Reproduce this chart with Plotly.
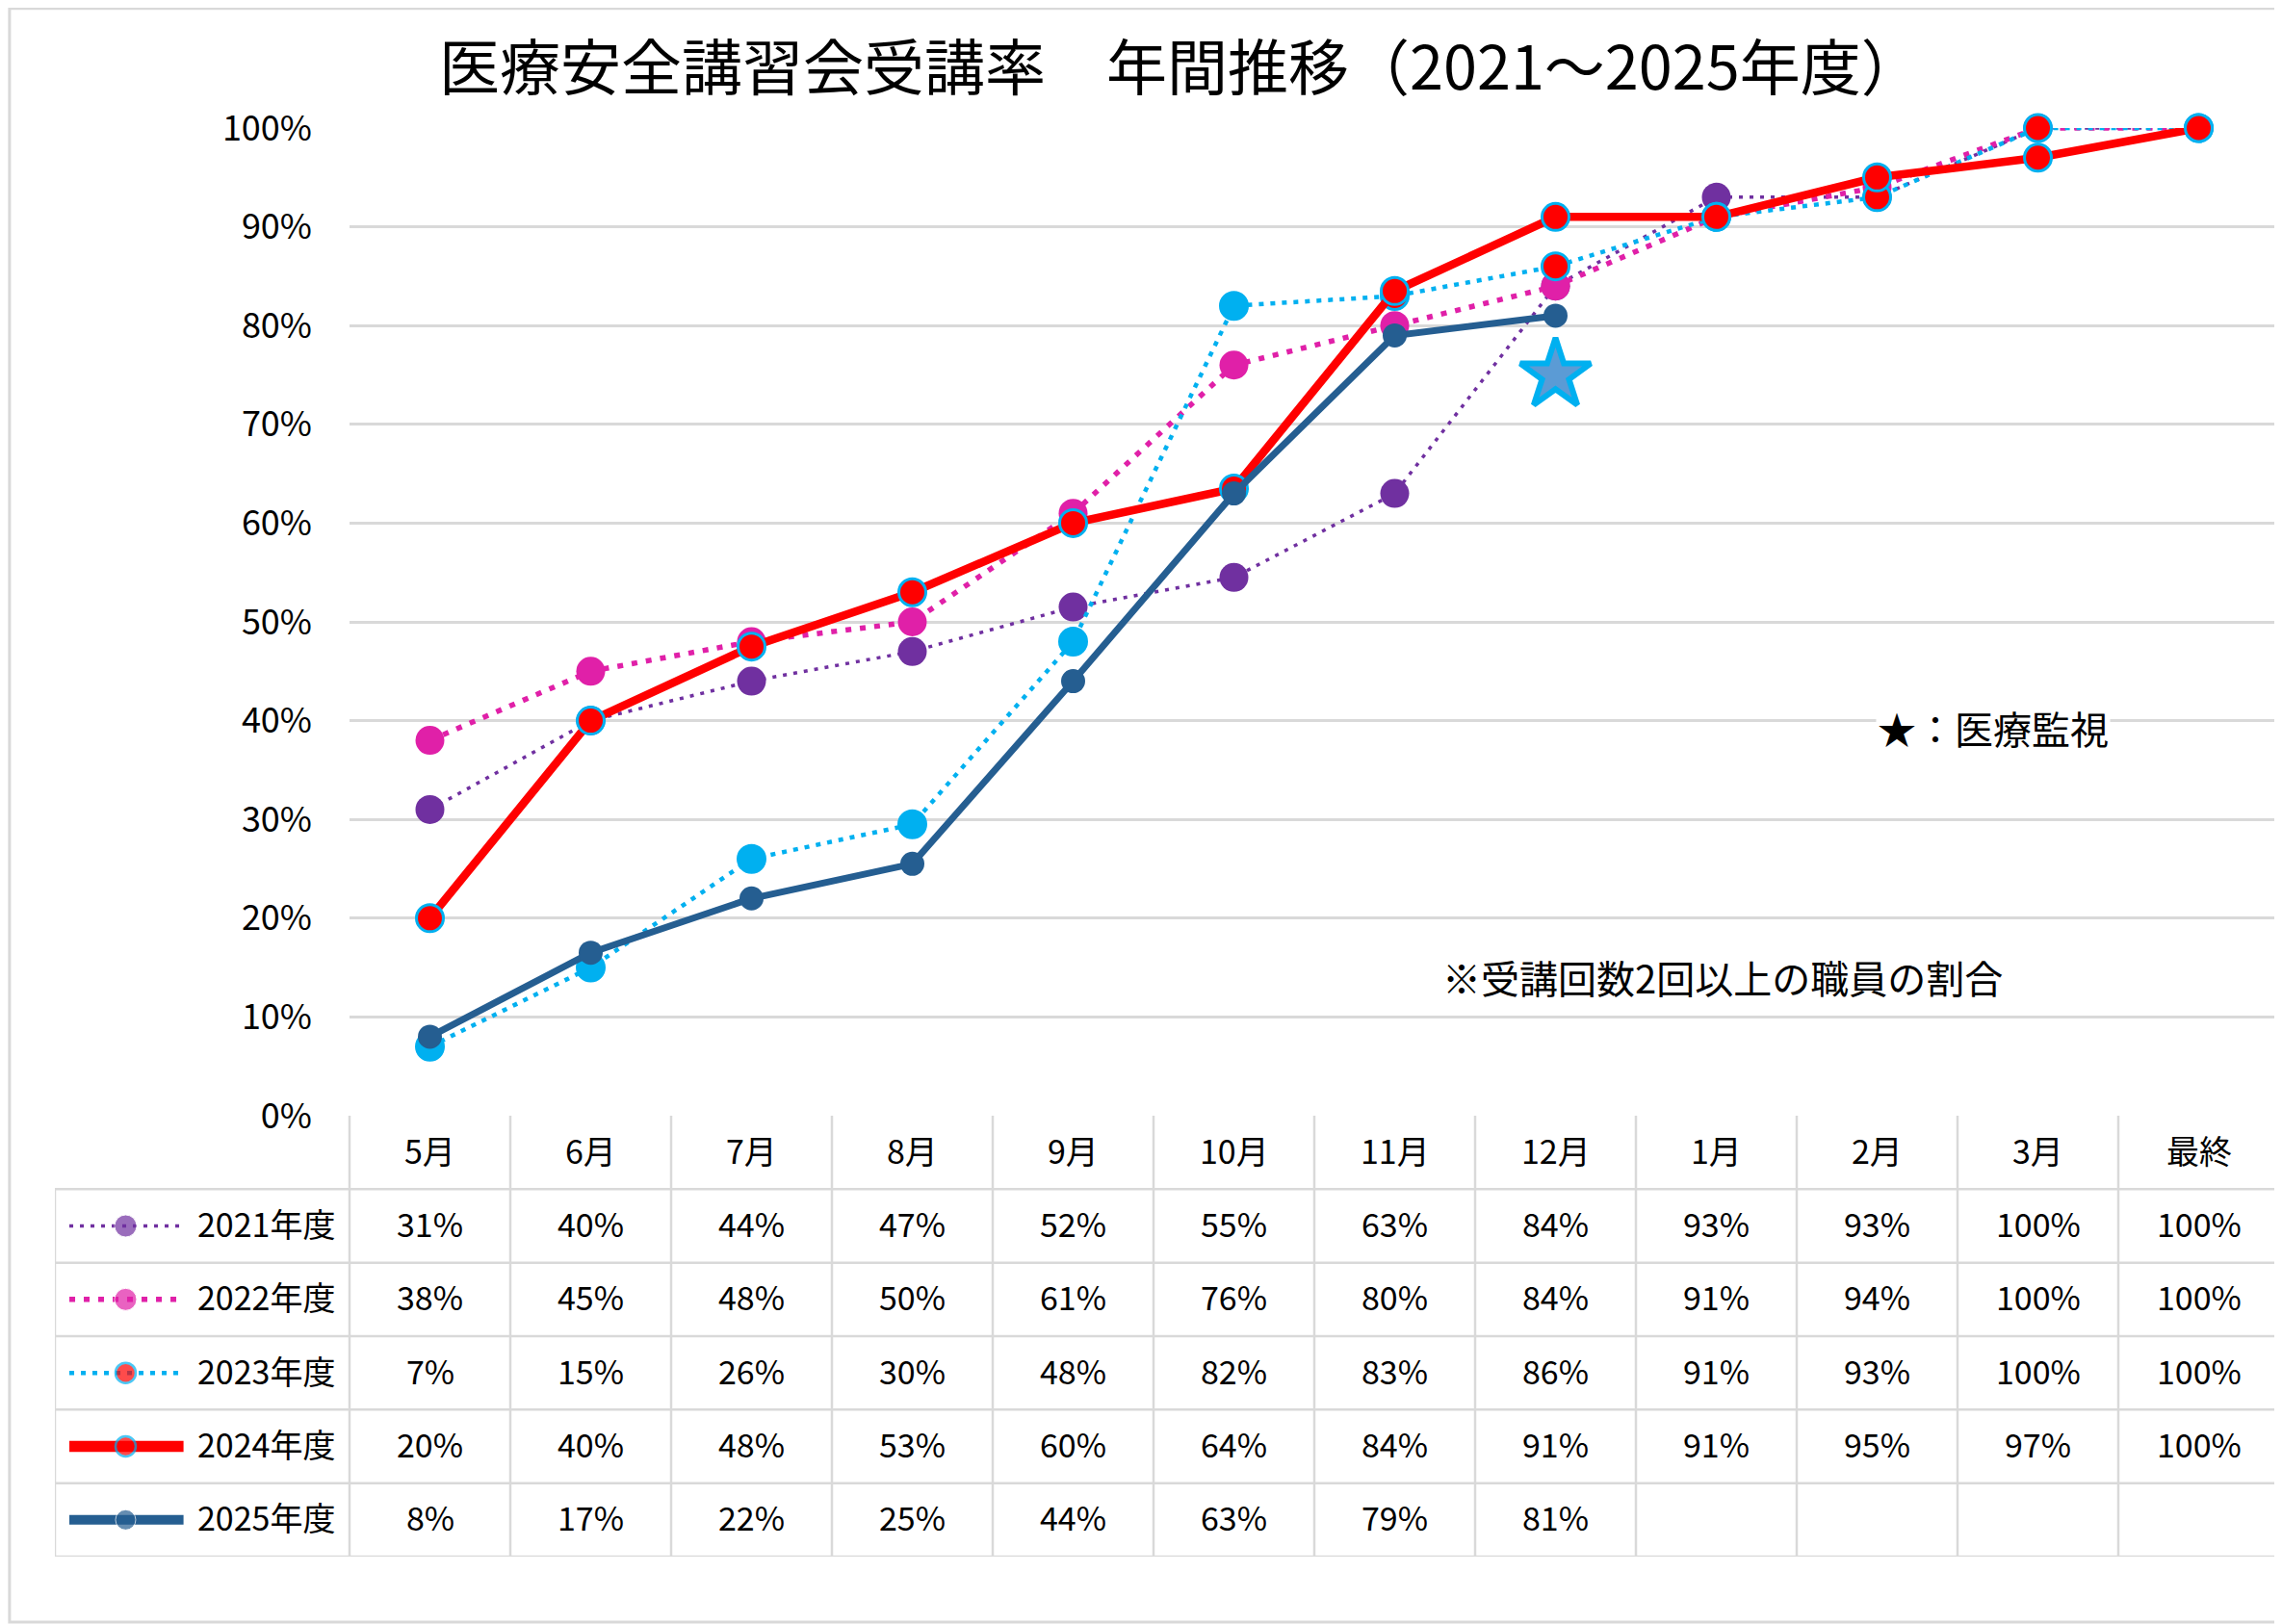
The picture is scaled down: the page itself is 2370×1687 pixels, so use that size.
"""医療安全講習会受講率 年間推移 (2021-2025年度) をPlotlyで再現する."""

import plotly.graph_objects as go

# --- data ---
MONTHS = ["5月", "6月", "7月", "8月", "9月", "10月", "11月", "12月", "1月", "2月", "3月", "最終"]
YEARS = ["2021年度", "2022年度", "2023年度", "2024年度", "2025年度"]

RATE_2021 = [0.31, 0.40, 0.44, 0.47, 0.515, 0.545, 0.63, 0.84, 0.93, 0.93, 1.00, 1.00]
RATE_2022 = [0.38, 0.45, 0.48, 0.50, 0.61, 0.76, 0.80, 0.84, 0.91, 0.94, 1.00, 1.00]
RATE_2023 = [0.07, 0.15, 0.26, 0.295, 0.48, 0.82, 0.83, 0.86, 0.91, 0.93, 1.00, 1.00]
RATE_2024 = [0.20, 0.40, 0.475, 0.53, 0.60, 0.635, 0.835, 0.91, 0.91, 0.95, 0.97, 1.00]
RATE_2025 = [0.08, 0.165, 0.22, 0.255, 0.44, 0.63, 0.79, 0.81]

# table texts (rounded values as shown in the data table)
TABLE_2021 = ["31%", "40%", "44%", "47%", "52%", "55%", "63%", "84%", "93%", "93%", "100%", "100%"]
TABLE_2022 = ["38%", "45%", "48%", "50%", "61%", "76%", "80%", "84%", "91%", "94%", "100%", "100%"]
TABLE_2023 = ["7%", "15%", "26%", "30%", "48%", "82%", "83%", "86%", "91%", "93%", "100%", "100%"]
TABLE_2024 = ["20%", "40%", "48%", "53%", "60%", "64%", "84%", "91%", "91%", "95%", "97%", "100%"]
TABLE_2025 = ["8%", "17%", "22%", "25%", "44%", "63%", "79%", "81%"]

STAR_MONTH = "12月"
STAR_VALUE = 0.75

# the page body has an 8px margin, so the figure is drawn 8px smaller
# and all pixel positions are taken relative to that offset
OFFSET = 8
W, H = 2370 - OFFSET, 1687 - OFFSET
FONT = "Noto Sans CJK JP"
GRID = "#D9D9D9"

# layout in page pixels
PLOT_L, PLOT_R = 363 - OFFSET, 2367 - OFFSET
PLOT_T, PLOT_B = 133 - OFFSET, 1159 - OFFSET
TABLE_L, TABLE_B = 57 - OFFSET, 1617 - OFFSET
TITLE_X, TITLE_Y = 1226 - OFFSET, 66 - OFFSET
N_ROWS = 6  # header + 5 series

unit = (PLOT_R - PLOT_L) / len(MONTHS)
x2_left = len(MONTHS) - 0.5 - (PLOT_R - TABLE_L) / unit
legend_right = -0.5 - 13 / unit

SERIES = [
    {
        "name": YEARS[0], "y": RATE_2021, "text": TABLE_2021,
        "line": {"color": "#7030A0", "width": 3.5, "dash": "4px,7px"},
        "marker": {"color": "#7030A0", "size": 30},
        "key_marker": {"color": "#7030A0", "size": 23},
    },
    {
        "name": YEARS[1], "y": RATE_2022, "text": TABLE_2022,
        "line": {"color": "#E020A8", "width": 5.5, "dash": "6px,9px"},
        "marker": {"color": "#E020A8", "size": 30},
        "key_marker": {"color": "#E020A8", "size": 23},
    },
    {
        "name": YEARS[2], "y": RATE_2023, "text": TABLE_2023,
        "line": {"color": "#00B0F0", "width": 4.5, "dash": "5px,7px"},
        "marker": {
            "color": ["#00B0F0"] * 6 + ["#FF0000"] * 6,
            "size": 28,
            "line": {"color": "#00B0F0", "width": 3},
        },
        "key_marker": {"color": "#FF0000", "size": 21, "line": {"color": "#00B0F0", "width": 2.5}},
    },
    {
        "name": YEARS[3], "y": RATE_2024, "text": TABLE_2024,
        "line": {"color": "#FF0000", "width": 8.5},
        "marker": {"color": "#FF0000", "size": 28, "line": {"color": "#00B0F0", "width": 3}},
        "key_marker": {"color": "#FF0000", "size": 21, "line": {"color": "#00B0F0", "width": 2.5}},
    },
    {
        "name": YEARS[4], "y": RATE_2025, "text": TABLE_2025,
        "line": {"color": "#255E91", "width": 7},
        "marker": {"color": "#255E91", "size": 25},
        "key_marker": {"color": "#255E91", "size": 21},
    },
]

fig = go.Figure()

# chart lines
for s in SERIES:
    fig.add_trace(
        go.Scatter(
            x=list(range(len(s["y"]))),
            y=s["y"],
            mode="lines+markers",
            name=s["name"],
            line=s["line"],
            marker=s["marker"],
            showlegend=False,
            cliponaxis=False,
        ),
    )

# star (医療監視)
fig.add_trace(
    go.Scatter(
        x=[MONTHS.index(STAR_MONTH)],
        y=[STAR_VALUE],
        mode="markers",
        marker={"symbol": "star", "size": 55, "color": "#5B9BD5",
                "line": {"color": "#00B0F0", "width": 6}},
        showlegend=False,
    ),
)

# legend keys inside the data table
key_x = [x2_left + 0.09, x2_left + 0.44, x2_left + 0.80]
for r, s in enumerate(SERIES, start=1):
    km = dict(s["key_marker"])
    km["size"] = [0, km["size"], 0]
    key_line = dict(s["line"])
    if "dash" not in key_line:
        key_line["width"] = key_line["width"] + 3
    fig.add_trace(
        go.Scatter(
            x=key_x,
            y=[r + 0.5] * 3,
            mode="lines+markers",
            line=key_line,
            marker=km,
            xaxis="x2",
            yaxis="y2",
            showlegend=False,
            hoverinfo="skip",
        ),
    )

# table grid
line_style = {"color": GRID, "width": 2.5}
for i in range(len(MONTHS) + 1):
    fig.add_shape(type="line", xref="x2", yref="y2", x0=i - 0.5, x1=i - 0.5,
                  y0=0, y1=N_ROWS, line=line_style)
fig.add_shape(type="line", xref="x2", yref="y2", x0=x2_left, x1=x2_left,
              y0=1, y1=N_ROWS, line=line_style)
for r in range(1, N_ROWS + 1):
    fig.add_shape(type="line", xref="x2", yref="y2", x0=x2_left, x1=len(MONTHS) - 0.5,
                  y0=r, y1=r, line=line_style)

# outer chart border
fig.add_shape(type="rect", xref="paper", yref="paper", x0=0.0008, x1=0.9985,
              y0=0.0012, y1=0.9995, line={"color": GRID, "width": 3})

annotations = []
cell_font = {"family": FONT, "size": 34, "color": "#000000"}
for i, m in enumerate(MONTHS):
    annotations.append({"x": i, "y": 0.5, "xref": "x2", "yref": "y2", "text": m,
                        "showarrow": False, "font": cell_font, "yshift": 3})
for r, s in enumerate(SERIES, start=1):
    annotations.append({"x": legend_right, "y": r + 0.5, "xref": "x2", "yref": "y2",
                        "text": s["name"], "showarrow": False, "xanchor": "right",
                        "font": cell_font, "yshift": 3})
    for i, t in enumerate(s["text"]):
        annotations.append({"x": i, "y": r + 0.5, "xref": "x2", "yref": "y2", "text": t,
                            "showarrow": False, "font": cell_font, "yshift": 3})

annotations.append({
    "x": TITLE_X / W, "y": 1 - TITLE_Y / H, "xref": "paper", "yref": "paper",
    "text": "医療安全講習会受講率　年間推移（2021～2025年度）",
    "showarrow": False, "font": {"family": FONT, "size": 63, "color": "#000000"},
    "yanchor": "middle",
})
annotations.append({
    "x": 9.72, "y": 0.393, "xref": "x", "yref": "y", "text": "★：医療監視",
    "showarrow": False, "bgcolor": "#FFFFFF",
    "font": {"family": FONT, "size": 40, "color": "#000000"},
})
annotations.append({
    "x": 8.04, "y": 0.14, "xref": "x", "yref": "y", "text": "※受講回数2回以上の職員の割合",
    "showarrow": False, "bgcolor": "#FFFFFF",
    "font": {"family": FONT, "size": 40, "color": "#000000"},
})

fig.update_layout(
    width=W,
    height=H,
    margin={"l": 0, "r": 0, "t": 0, "b": 0, "pad": 0, "autoexpand": False},
    paper_bgcolor="#FFFFFF",
    plot_bgcolor="#FFFFFF",
    showlegend=False,
    font={"family": FONT, "size": 34, "color": "#000000"},
    xaxis={
        "domain": [PLOT_L / W, PLOT_R / W],
        "range": [-0.5, len(MONTHS) - 0.5],
        "showticklabels": False,
        "showgrid": False,
        "zeroline": False,
        "showline": False,
        "automargin": False,
    },
    yaxis={
        "domain": [1 - PLOT_B / H, 1 - PLOT_T / H],
        "range": [0, 1],
        "tickvals": [i / 10 for i in range(11)],
        "tickformat": ".0%",
        "showgrid": True,
        "gridcolor": GRID,
        "gridwidth": 2.5,
        "zeroline": False,
        "showline": False,
        "automargin": False,
        "ticklabelstandoff": 38,
        "tickfont": {"family": FONT, "size": 36, "color": "#000000"},
    },
    xaxis2={
        "domain": [TABLE_L / W, PLOT_R / W],
        "range": [x2_left, len(MONTHS) - 0.5],
        "visible": False,
        "anchor": "y2",
        "automargin": False,
    },
    yaxis2={
        "domain": [1 - TABLE_B / H, 1 - PLOT_B / H],
        "range": [N_ROWS, 0],
        "visible": False,
        "anchor": "x2",
        "automargin": False,
    },
    annotations=annotations,
)

fig.write_html("out.html")
